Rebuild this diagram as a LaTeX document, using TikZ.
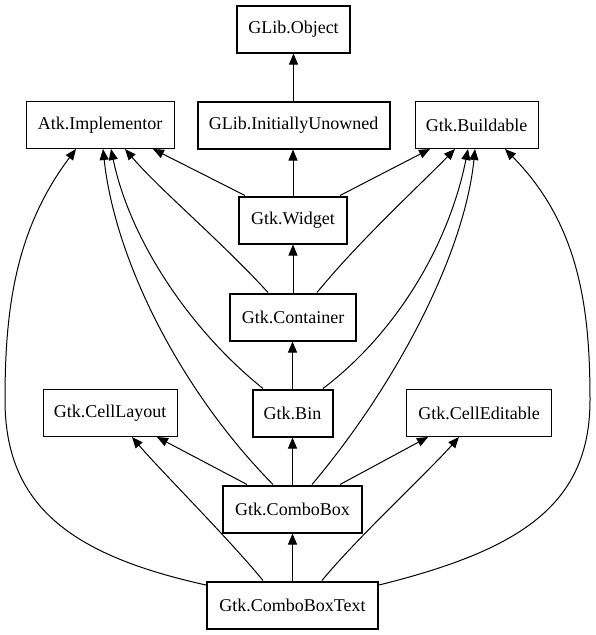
\documentclass[tikz,border=0pt]{standalone}
\usepackage{fontspec}
\setmainfont{Liberation Serif}
\usetikzlibrary{arrows.meta}
\tikzset{
  cls/.style={draw, rectangle, minimum height=47pt, inner sep=0pt, font=\fontsize{18}{20}\selectfont, line width=1pt},
  thickcls/.style={cls, line width=2pt},
  edge/.style={line width=1pt, -{Triangle[length=11pt,width=9pt]}},
}
\begin{document}
\begin{tikzpicture}[x=1pt,y=-1pt]
\useasboundingbox (0,0) rectangle (595,635);
\node[thickcls, minimum width=113pt] (obj) at (293.5,29) {GLib.Object};
\node[cls, minimum width=148pt] (atk) at (100,125) {Atk.Implementor};
\node[thickcls, minimum width=192pt] (iu) at (293.5,125) {GLib.InitiallyUnowned};
\node[cls, minimum width=123pt] (bld) at (476.5,125) {Gtk.Buildable};
\node[thickcls, minimum width=108pt] (wid) at (293,220) {Gtk.Widget};
\node[thickcls, minimum width=126pt] (cont) at (293,317) {Gtk.Container};
\node[cls, minimum width=134pt] (cl) at (110,413) {Gtk.CellLayout};
\node[thickcls, minimum width=80pt] (bin) at (292.5,413) {Gtk.Bin};
\node[cls, minimum width=145pt] (ce) at (479,413) {Gtk.CellEditable};
\node[thickcls, minimum width=139pt] (cb) at (292.5,509) {Gtk.ComboBox};
\node[thickcls, minimum width=171pt] (cbt) at (292.5,605) {Gtk.ComboBoxText};

% vertical chain
\draw[edge] (iu.north) -- (iu.north |- obj.south);
\draw[edge] (wid.north) -- (wid.north |- iu.south);
\draw[edge] (cont.north) -- (cont.north |- wid.south);
\draw[edge] (bin.north) -- (bin.north |- cont.south);
\draw[edge] (cb.north) -- (cb.north |- bin.south);
\draw[edge] (cbt.north) -- (cbt.north |- cb.south);

% Widget
\draw[edge] ([xshift=-48pt]wid.north) -- ([xshift=53pt]atk.south);
\draw[edge] ([xshift=47pt]wid.north) -- ([xshift=-46.5pt]bld.south);

% Container
\draw[edge] ([xshift=-25pt]cont.north) .. controls (220,240) and (160,190) .. ([xshift=25pt]atk.south);
\draw[edge] ([xshift=24pt]cont.north) .. controls (360,240) and (420,185) .. ([xshift=-21.5pt]bld.south);

% Bin
\draw[edge] ([xshift=-29.5pt]bin.north) .. controls (190,330) and (130,240) .. ([xshift=11pt]atk.south);
\draw[edge] ([xshift=30.5pt]bin.north) .. controls (400,330) and (450,240) .. ([xshift=-8.5pt]bld.south);

% ComboBox
\draw[edge] ([xshift=-19.5pt]cb.north) .. controls (180,390) and (115,260) .. ([xshift=3pt]atk.south);
\draw[edge] ([xshift=19.5pt]cb.north) .. controls (400,380) and (465,250) .. ([xshift=-1.5pt]bld.south);
\draw[edge] ([xshift=-45.5pt]cb.north) -- ([xshift=47pt]cl.south);
\draw[edge] ([xshift=47.5pt]cb.north) -- ([xshift=-51pt]ce.south);

% ComboBoxText
\draw[edge] ([xshift=-29.5pt]cbt.north) .. controls (230,540) and (160,470) .. ([xshift=22pt]cl.south);
\draw[edge] ([xshift=29.5pt]cbt.north) .. controls (355,540) and (430,470) .. ([xshift=-20pt]ce.south);
\draw[edge] ([yshift=20pt]cbt.west) .. controls (70,555) and (5,505) .. (5,400)
   .. controls (5,310) and (15,230) .. ([xshift=-24pt]atk.south);
\draw[edge] ([yshift=20pt]cbt.east) .. controls (520,550) and (590,505) .. (590,400)
   .. controls (590,310) and (580,225) .. ([xshift=28.5pt]bld.south);
\end{tikzpicture}
\end{document}
